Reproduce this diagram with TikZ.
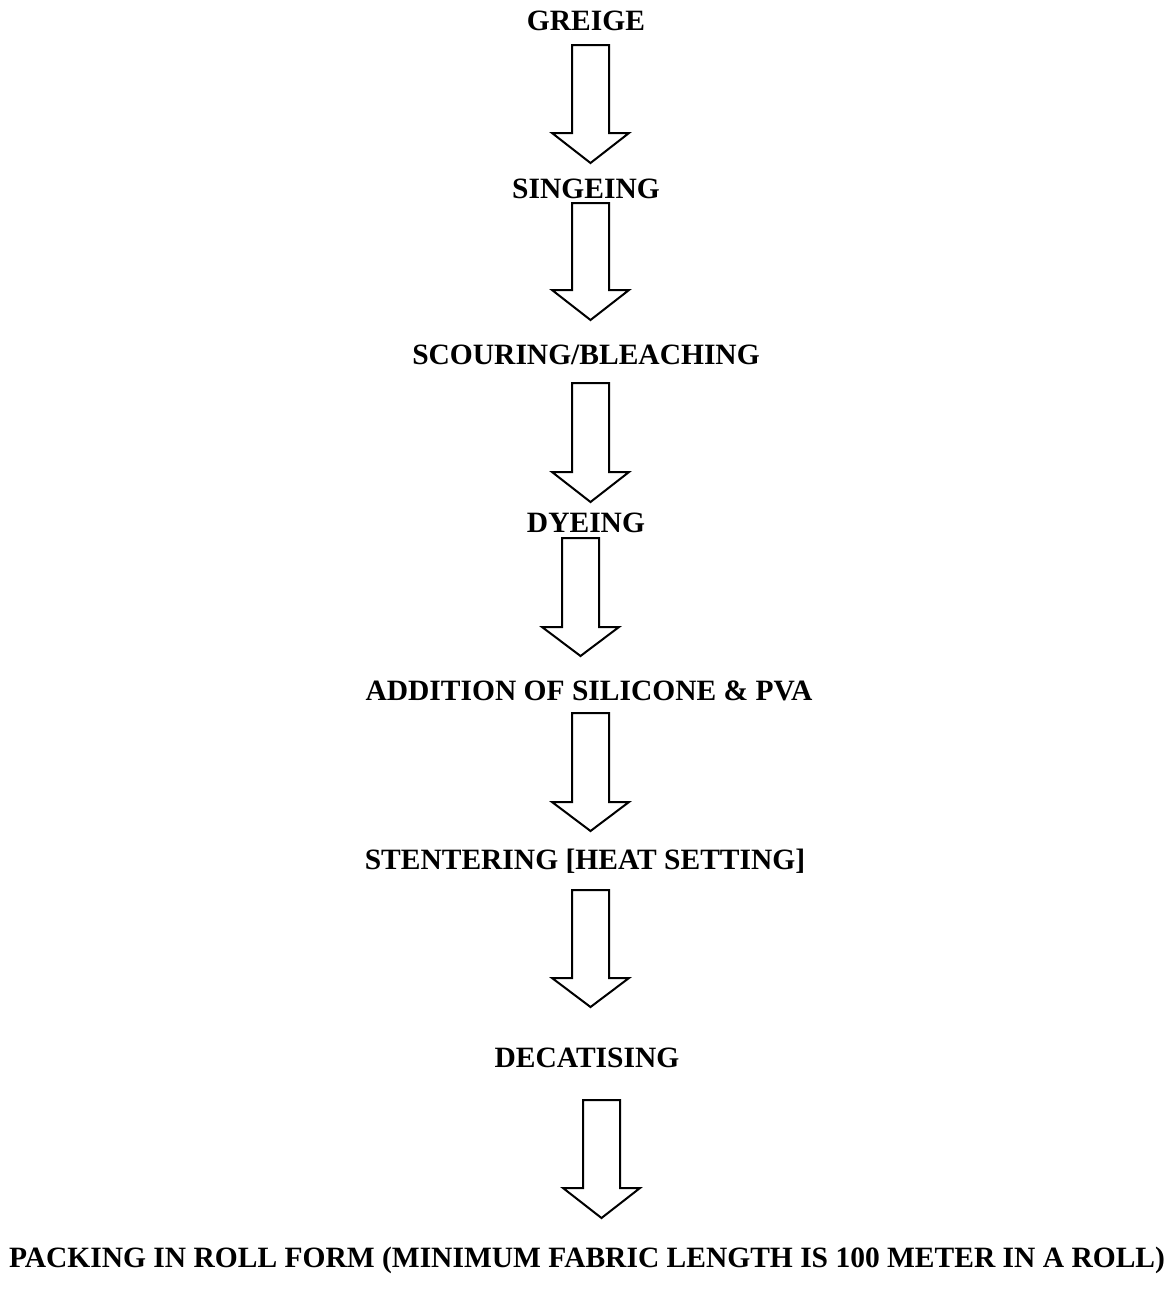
\documentclass[tikz,border=0pt]{standalone}
\usepackage{fontspec}
\setmainfont{Liberation Serif}
\begin{document}
\begin{tikzpicture}[x=0.5pt,y=-0.5pt,
  lbl/.style={font=\bfseries\fontsize{14.75}{17}\selectfont, anchor=base, inner sep=0pt},
  blockarrow/.style={draw=black, line width=1pt, fill=white, line join=miter}]
\useasboundingbox (0,0) rectangle (1173,1290);
% labels (positions are baselines)
\node[lbl] (greige)  at (586,30)   {GREIGE};
\node[lbl] (singe)   at (586,198)  {SINGEING};
\node[lbl] (scour)   at (586,364)  {SCOURING/BLEACHING};
\node[lbl] (dye)     at (586,532)  {DYEING};
\node[lbl] (addit)   at (589,700)  {ADDITION OF SILICONE \& PVA};
\node[lbl] (stent)   at (585,869)  {STENTERING [HEAT SETTING]};
\node[lbl] (decat)   at (587,1067) {DECATISING};
\node[lbl] (pack)    at (587,1267) {PACKING IN ROLL FORM (MINIMUM FABRIC LENGTH IS 100 METER IN A ROLL)};
% block arrows: #1 centre x, #2 top y, #3 shoulder y, #4 tip y
\newcommand\mkblockarrow[4]{%
  \draw[blockarrow] (#1-18.5,#2) -- (#1+18.5,#2) -- (#1+18.5,#3) -- (#1+38.5,#3)
    -- (#1,#4) -- (#1-38.5,#3) -- (#1-18.5,#3) -- cycle;}
\mkblockarrow{590.5}{45}{133}{163}
\mkblockarrow{590.5}{203}{290}{320}
\mkblockarrow{590.5}{383}{472}{502}
\mkblockarrow{580.5}{538}{627}{656}
\mkblockarrow{590.5}{713}{802}{831}
\mkblockarrow{590.5}{890}{978}{1007}
\mkblockarrow{601.5}{1100}{1188}{1218}
\end{tikzpicture}
\end{document}
